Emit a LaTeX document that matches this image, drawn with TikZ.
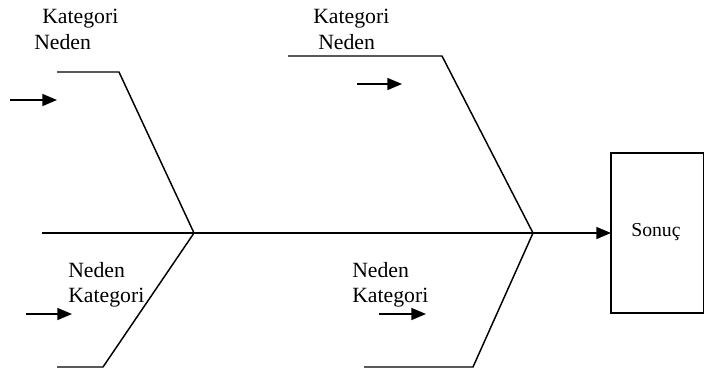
\documentclass[tikz,border=0pt]{standalone}
\usepackage{fontspec}
\setmainfont{Liberation Serif}
\usetikzlibrary{arrows.meta}
\begin{document}
\begin{tikzpicture}[x=0.75pt,y=-0.75pt,
  bone/.style={line width=1.1pt,line join=miter},
  cause/.style={line width=1.1pt,-{Triangle[length=11pt,width=9pt]}},
  lbl/.style={anchor=base west,inner sep=0pt,font=\fontsize{16.3}{19}\selectfont},
  reslbl/.style={anchor=base west,inner sep=0pt,font=\fontsize{14.8}{17}\selectfont}]
\useasboundingbox (0,0) rectangle (705,372);

% spine and its branching points
\coordinate (tail) at (42,233);
\coordinate (j1) at (194,233);
\coordinate (j2) at (533,233);

% upper-left bone
\coordinate (ulA) at (57,72);
\coordinate (ulB) at (119,72);
% lower-left bone
\coordinate (llA) at (57,367);
\coordinate (llB) at (103,367);
% upper-right bone
\coordinate (urA) at (288,56);
\coordinate (urB) at (442,56);
% lower-right bone
\coordinate (lrA) at (364,367);
\coordinate (lrB) at (473,367);

% result box
\draw[line width=1.1pt] (611,153) rectangle (703.5,313);
\coordinate (head) at (611,233);
\node[reslbl] (res) at (631,236) {Sonuç};

% bones
\draw[bone] (ulA) -- (ulB) -- (j1) -- (llB) -- (llA);
\draw[bone] (urA) -- (urB) -- (j2) -- (lrB) -- (lrA);
\draw[cause] (tail) -- (head);

% small cause arrows
\coordinate (a1s) at (10,100);  \coordinate (a1e) at (57,100);
\coordinate (a2s) at (357,84);  \coordinate (a2e) at (402,84);
\coordinate (a3s) at (26,314);  \coordinate (a3e) at (72,314);
\coordinate (a4s) at (379,314); \coordinate (a4e) at (426,314);
\draw[cause] (a1s) -- (a1e);
\draw[cause] (a2s) -- (a2e);
\draw[cause] (a3s) -- (a3e);
\draw[cause] (a4s) -- (a4e);

% labels
\node[lbl] (t1a) at (42,23) {Kategori};
\node[lbl] (t1b) at (34,49) {Neden};
\node[lbl] (t2a) at (313,23) {Kategori};
\node[lbl] (t2b) at (318,49) {Neden};
\node[lbl] (t3a) at (68,277) {Neden};
\node[lbl] (t3b) at (68,302) {Kategori};
\node[lbl] (t4a) at (352,277) {Neden};
\node[lbl] (t4b) at (352,302) {Kategori};
\end{tikzpicture}
\end{document}
